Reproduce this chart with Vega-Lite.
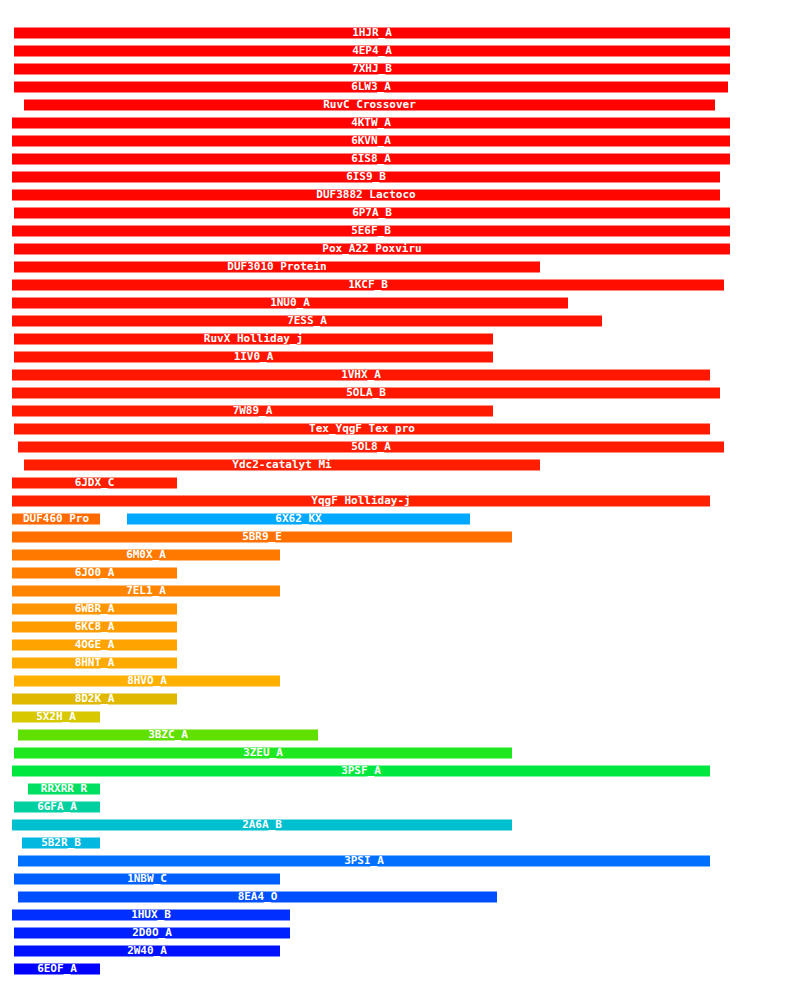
{
"$schema":"https://vega.github.io/schema/vega-lite/v6.json",
"width":800,"height":982,"padding":0,"autosize":"none",
"background":"white",
"config":{"view":{"stroke":null}},
"data":{"values":[
{"r":1,"rank":1,"name":"1HJR_A","s":14,"e":730},
{"r":2,"rank":2,"name":"4EP4_A","s":14,"e":730},
{"r":3,"rank":3,"name":"7XHJ_B","s":14,"e":730},
{"r":4,"rank":4,"name":"6LW3_A","s":14,"e":728},
{"r":5,"rank":5,"name":"RuvC  Crossover","s":24,"e":715},
{"r":6,"rank":6,"name":"4KTW_A","s":12,"e":730},
{"r":7,"rank":7,"name":"6KVN_A","s":12,"e":730},
{"r":8,"rank":8,"name":"6IS8_A","s":12,"e":730},
{"r":9,"rank":9,"name":"6IS9_B","s":12,"e":720},
{"r":10,"rank":10,"name":"DUF3882  Lactoco","s":12,"e":720},
{"r":11,"rank":11,"name":"6P7A_B","s":14,"e":730},
{"r":12,"rank":12,"name":"5E6F_B","s":12,"e":730},
{"r":13,"rank":13,"name":"Pox_A22  Poxviru","s":14,"e":730},
{"r":14,"rank":14,"name":"DUF3010  Protein","s":14,"e":540},
{"r":15,"rank":15,"name":"1KCF_B","s":12,"e":724},
{"r":16,"rank":16,"name":"1NU0_A","s":12,"e":568},
{"r":17,"rank":17,"name":"7ESS_A","s":12,"e":602},
{"r":18,"rank":18,"name":"RuvX  Holliday_j","s":14,"e":493},
{"r":19,"rank":19,"name":"1IV0_A","s":14,"e":493},
{"r":20,"rank":20,"name":"1VHX_A","s":12,"e":710},
{"r":21,"rank":21,"name":"5OLA_B","s":12,"e":720},
{"r":22,"rank":22,"name":"7W89_A","s":12,"e":493},
{"r":23,"rank":23,"name":"Tex_YqgF  Tex pro","s":14,"e":710},
{"r":24,"rank":24,"name":"5OL8_A","s":18,"e":724},
{"r":25,"rank":25,"name":"Ydc2-catalyt  Mi","s":24,"e":540},
{"r":26,"rank":26,"name":"6JDX_C","s":12,"e":177},
{"r":27,"rank":27,"name":"YqgF  Holliday-j","s":12,"e":710},
{"r":28,"rank":28,"name":"DUF460  Pro","s":12,"e":100},
{"r":28,"rank":29,"name":"6X62_KX","s":127,"e":470},
{"r":29,"rank":30,"name":"5BR9_E","s":12,"e":512},
{"r":30,"rank":31,"name":"6M0X_A","s":12,"e":280},
{"r":31,"rank":32,"name":"6JO0_A","s":12,"e":177},
{"r":32,"rank":33,"name":"7EL1_A","s":12,"e":280},
{"r":33,"rank":34,"name":"6WBR_A","s":12,"e":177},
{"r":34,"rank":35,"name":"6KC8_A","s":12,"e":177},
{"r":35,"rank":36,"name":"4OGE_A","s":12,"e":177},
{"r":36,"rank":37,"name":"8HNT_A","s":12,"e":177},
{"r":37,"rank":38,"name":"8HVO_A","s":14,"e":280},
{"r":38,"rank":39,"name":"8D2K_A","s":12,"e":177},
{"r":39,"rank":40,"name":"5X2H_A","s":12,"e":100},
{"r":40,"rank":41,"name":"3BZC_A","s":18,"e":318},
{"r":41,"rank":42,"name":"3ZEU_A","s":14,"e":512},
{"r":42,"rank":43,"name":"3PSF_A","s":12,"e":710},
{"r":43,"rank":44,"name":"RRXRR  R","s":28,"e":100},
{"r":44,"rank":45,"name":"6GFA_A","s":14,"e":100},
{"r":45,"rank":46,"name":"2A6A_B","s":12,"e":512},
{"r":46,"rank":47,"name":"5B2R_B","s":22,"e":100},
{"r":47,"rank":48,"name":"3PSI_A","s":18,"e":710},
{"r":48,"rank":49,"name":"1NBW_C","s":14,"e":280},
{"r":49,"rank":50,"name":"8EA4_O","s":18,"e":497},
{"r":50,"rank":51,"name":"1HUX_B","s":12,"e":290},
{"r":51,"rank":52,"name":"2D0O_A","s":14,"e":290},
{"r":52,"rank":53,"name":"2W40_A","s":14,"e":280},
{"r":53,"rank":54,"name":"6EOF_A","s":14,"e":100}
]},
"transform":[{"calculate":"(datum.s+datum.e)/2","as":"mid"}],
"encoding":{
"y":{"field":"r","type":"quantitative","scale":{"domain":[-0.833,53.72],"reverse":true,"nice":false,"zero":false},"axis":null}
},
"layer":[
{"mark":{"type":"rule","strokeWidth":11},
"encoding":{
"x":{"field":"s","type":"quantitative","scale":{"domain":[0,800],"nice":false,"zero":false},"axis":null},
"x2":{"field":"e"},
"color":{"field":"rank","type":"quantitative","legend":null,"scale":{
"domain":[1,13,27,28,29,30,31,33,34,37,38,39,40,41,42,43,44,45,46,47,48,49,50,51,52,53,54],
"range":["#ff0000","#ff0800","#ff2000","#ff6a00","#00a8ff","#ff7000","#ff7800","#ff8400","#ff9500","#ffaa00","#ffb000","#e0b800","#d8c800","#60e000","#20e820","#00e840","#00e060","#00d0a0","#00c0d0","#00b8e0","#0070ff","#0060ff","#0050ff","#0030ff","#0020ff","#0010ff","#0000ff"]}}
}},
{"mark":{"type":"text","color":"white","font":"DejaVu Sans Mono","fontWeight":"bold","fontSize":11,"align":"center","baseline":"middle"},
"encoding":{
"x":{"field":"mid","type":"quantitative","scale":{"domain":[0,800],"nice":false,"zero":false},"axis":null},
"text":{"field":"name"}
}}
]
}
